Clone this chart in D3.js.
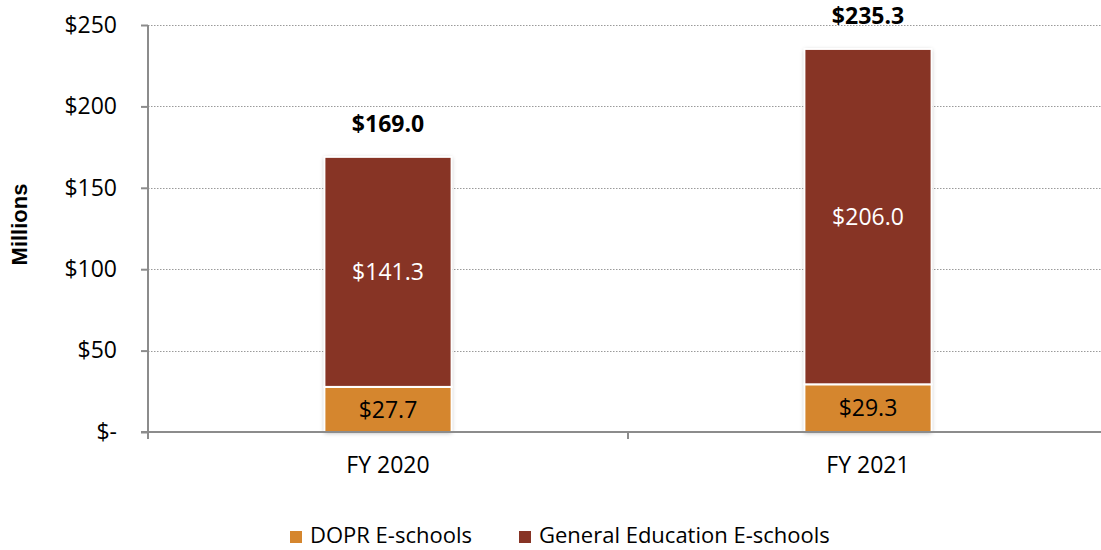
<!DOCTYPE html>
<html lang="en">
<head>
  <meta charset="UTF-8">
  <title>E-schools funding</title>
  <script src="https://d3js.org/d3.v7.min.js"></script>
  <style>
    body { margin: 0; background: #fff; }
    svg { display: block; font-family: "Open Sans", "Liberation Sans", sans-serif; }
    .grid line { stroke: #9a9a9a; stroke-dasharray: 1.5 1.5; stroke-width: 1; }
    .axis path, .axis line { stroke: #8c8c8c; stroke-width: 2; }
  </style>
</head>
<body>
  <svg width="1101" height="550"></svg>

  <script>
    // Data (millions of dollars)
    const years = ['FY 2020', 'FY 2021'];
    const dopr = [27.7, 29.3];
    const generalEd = [141.3, 206.0];
    const totals = [169.0, 235.3];
    const seriesNames = ['DOPR E-schools', 'General Education E-schools'];
    const seriesColors = ['#D5862E', '#873425'];
    const yTicks = [0, 50, 100, 150, 200, 250];

    const width = 1101, height = 550;
    const margin = { top: 25, right: 0, bottom: 118, left: 148 };
    const svg = d3.select('svg');

    // band range runs a bit past the right edge, like the original plot area
    const x = d3.scaleBand()
      .domain(years)
      .range([margin.left, margin.left + 960])
      .paddingInner(0.735)
      .paddingOuter(0.3675);

    const y = d3.scaleLinear()
      .domain([0, 250])
      .range([height - margin.bottom, margin.top]);

    // gridlines
    svg.append('g').attr('class', 'grid')
      .selectAll('line')
      .data(yTicks.filter(d => d > 0))
      .join('line')
      .attr('x1', margin.left).attr('x2', width)
      .attr('y1', d => Math.round(y(d)) + 0.5).attr('y2', d => Math.round(y(d)) + 0.5);

    // shadow filter
    const defs = svg.append('defs');
    const f = defs.append('filter').attr('id', 'shadow')
      .attr('x', '-10%').attr('y', '-10%').attr('width', '120%').attr('height', '120%');
    f.append('feDropShadow').attr('dx', 0).attr('dy', 1).attr('stdDeviation', 2)
      .attr('flood-color', '#000').attr('flood-opacity', 0.3);

    const stackData = years.map((yr, i) => ({ year: yr, dopr: dopr[i], gen: generalEd[i] }));
    const stack = d3.stack().keys(['dopr', 'gen'])(stackData);

    const barG = svg.append('g');
    barG.selectAll('rect.shadow')
      .data(stackData)
      .join('rect')
      .attr('class', 'shadow')
      .attr('x', d => x(d.year))
      .attr('width', x.bandwidth())
      .attr('y', d => y(d.dopr + d.gen))
      .attr('height', d => y(0) - y(d.dopr + d.gen))
      .attr('fill', '#fff')
      .attr('filter', 'url(#shadow)');

    stack.forEach((layer, li) => {
      barG.append('g')
        .selectAll('rect')
        .data(layer)
        .join('rect')
        .attr('x', d => x(d.data.year))
        .attr('width', x.bandwidth())
        .attr('y', d => y(d[1]))
        .attr('height', d => y(d[0]) - y(d[1]))
        .attr('fill', seriesColors[li])
        .attr('stroke', '#fff')
        .attr('stroke-width', 2);
    });

    // segment labels
    stack.forEach((layer, li) => {
      svg.append('g')
        .selectAll('text')
        .data(layer)
        .join('text')
        .attr('x', d => x(d.data.year) + x.bandwidth() / 2)
        .attr('y', d => (y(d[0]) + y(d[1])) / 2)
        .attr('dy', '0.35em')
        .attr('text-anchor', 'middle')
        .attr('font-size', 23)
        .attr('fill', li === 0 ? '#000' : '#fff')
        .text(d => '$' + (d[1] - d[0]).toFixed(1));
    });

    // total labels
    svg.append('g')
      .selectAll('text')
      .data(years)
      .join('text')
      .attr('x', d => x(d) + x.bandwidth() / 2)
      .attr('y', (d, i) => y(totals[i]) - 25)
      .attr('text-anchor', 'middle')
      .attr('font-size', 23)
      .attr('font-weight', 'bold')
      .text((d, i) => '$' + totals[i].toFixed(1));

    // y axis
    svg.append('g').attr('class', 'axis')
      .attr('transform', `translate(${margin.left},0)`)
      .call(d3.axisLeft(y).tickValues(yTicks).tickSize(7).tickSizeOuter(0)
        .tickFormat(d => d === 0 ? '$-' : '$' + d))
      .call(g => g.selectAll('text').attr('font-size', 23).attr('fill', '#000')
        .attr('font-family', '"Open Sans", sans-serif').attr('x', -31))
      .call(g => g.select('.domain').attr('d', `M0,${y(250)}V${y(0)}`));

    // x axis
    const xAxisG = svg.append('g').attr('class', 'axis')
      .attr('transform', `translate(0,${y(0)})`);
    xAxisG.append('line')
      .attr('x1', margin.left - 7).attr('x2', width);
    const step = x.step();
    const boundaries = [margin.left, margin.left + step, margin.left + 2 * step];
    xAxisG.selectAll('line.tick')
      .data(boundaries)
      .join('line')
      .attr('class', 'tick')
      .attr('x1', d => d).attr('x2', d => d)
      .attr('y1', 0).attr('y2', 7);
    xAxisG.selectAll('text')
      .data(years)
      .join('text')
      .attr('x', d => x(d) + x.bandwidth() / 2)
      .attr('y', 33)
      .attr('dy', '0.35em')
      .attr('text-anchor', 'middle')
      .attr('font-size', 23)
      .text(d => d);

    // y title
    svg.append('text')
      .attr('transform', `translate(27,${(y(0) + y(250)) / 2 - 4}) rotate(-90)`)
      .attr('text-anchor', 'middle')
      .attr('font-family', '"Liberation Sans", Arial, sans-serif')
      .attr('font-weight', 'bold')
      .attr('font-size', 22)
      .text('Millions');

    // legend
    const legendX = [290, 519];
    const legend = svg.append('g');
    seriesNames.forEach((name, i) => {
      legend.append('rect')
        .attr('x', legendX[i]).attr('y', 531)
        .attr('width', 12).attr('height', 12)
        .attr('fill', seriesColors[i]);
      legend.append('text')
        .attr('x', legendX[i] + 20).attr('y', 535)
        .attr('dy', '0.35em')
        .attr('font-size', 22)
        .text(name);
    });
  </script>
</body>
</html>
